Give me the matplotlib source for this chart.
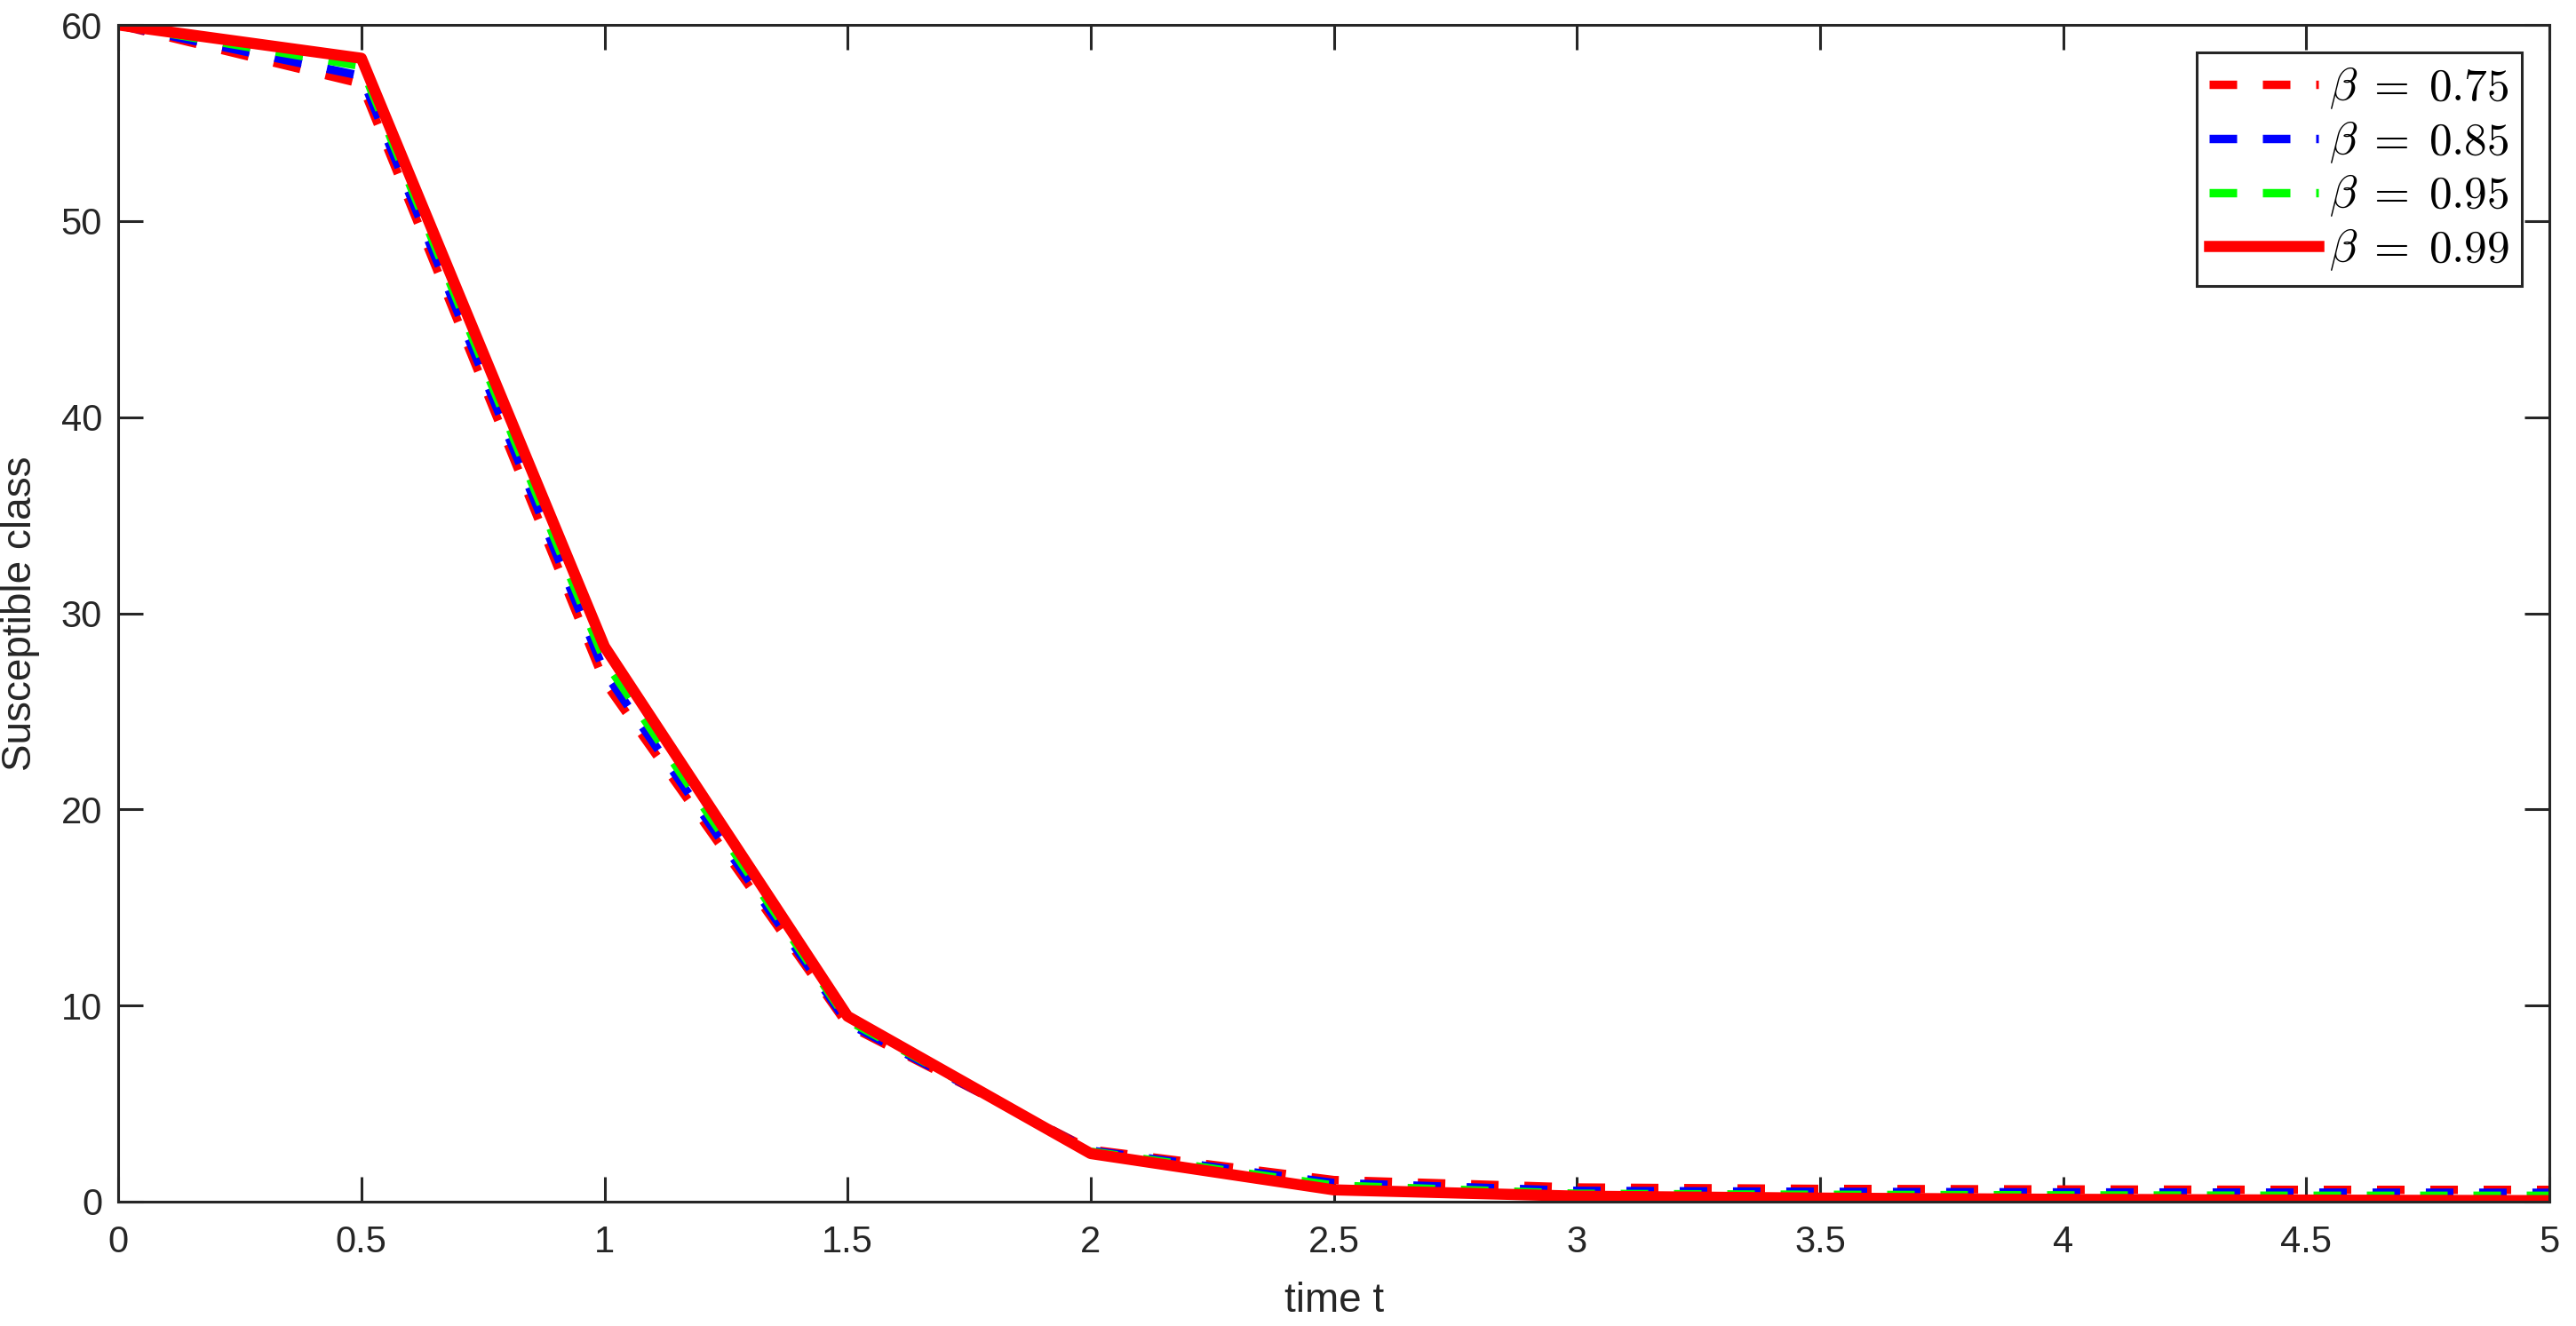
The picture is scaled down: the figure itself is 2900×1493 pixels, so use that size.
import numpy as np
import matplotlib
matplotlib.use('Agg')
import matplotlib.pyplot as plt

plt.rcParams['font.family'] = ['Liberation Sans', 'DejaVu Sans']
plt.rcParams['mathtext.fontset'] = 'cm'

# datos
t = [0, 0.5, 1, 1.5, 2, 2.5, 3, 3.5, 4, 4.5, 5]
S_075 = [60, 57.0, 26.5, 9.0, 2.65, 1.1, 0.72, 0.65, 0.62, 0.6, 0.6]
S_085 = [60, 57.4, 27.0, 9.1, 2.6, 0.95, 0.55, 0.5, 0.47, 0.46, 0.45]
S_095 = [60, 57.9, 27.6, 9.25, 2.55, 0.82, 0.4, 0.35, 0.32, 0.3, 0.3]
S_099 = [60, 58.3, 28.3, 9.45, 2.45, 0.6, 0.28, 0.18, 0.12, 0.08, 0.05]
etiquetas = [r'$\beta\;=\;0.75$', r'$\beta\;=\;0.85$', r'$\beta\;=\;0.95$', r'$\beta\;=\;0.99$']
xticks = [0, 0.5, 1, 1.5, 2, 2.5, 3, 3.5, 4, 4.5, 5]
yticks = [0, 10, 20, 30, 40, 50, 60]

gris = '#262626'
fig = plt.figure(figsize=(29, 14.93), dpi=100)
ax = fig.add_axes([0.0459, 0.0938, 0.9438, 0.8874])

# trazo discontinuo tipo matlab '-.'
lw_d = 6.8
guion = (31 / (lw_d * 100 / 72), 29 / (lw_d * 100 / 72))
ax.plot(t, S_075, color=(1, 0, 0), lw=lw_d, dashes=guion, label=etiquetas[0])
ax.plot(t, S_085, color=(0, 0, 1), lw=lw_d, dashes=guion, label=etiquetas[1])
ax.plot(t, S_095, color=(0, 1, 0), lw=lw_d, dashes=guion, label=etiquetas[2])
ax.plot(t, S_099, color=(1, 0, 0), lw=9, label=etiquetas[3])

ax.set_xlim(0, 5)
ax.set_ylim(0, 60)
ax.set_xticks(xticks)
ax.set_xticklabels([('%g' % v) for v in xticks])
ax.set_yticks(yticks)

for s in ax.spines.values():
    s.set_linewidth(2.2)
    s.set_color(gris)
ax.tick_params(direction='in', length=20, width=2.2, color=gris, labelcolor=gris,
               labelsize=30, top=True, right=True)
ax.tick_params(axis='x', pad=19)
ax.tick_params(axis='y', pad=13)

ax.set_xlabel('time t', fontsize=33, color=gris, labelpad=17)
ax.set_ylabel('Susceptible class', fontsize=33, color=gris, labelpad=17)

leg = ax.legend(loc='upper right', fontsize=37, handlelength=2.4, handletextpad=0.22,
                labelspacing=0.18, borderpad=0.28, borderaxespad=0.6,
                fancybox=False, framealpha=1)
leg.get_frame().set_edgecolor(gris)
leg.get_frame().set_linewidth(2.2)

plt.savefig('out.png', dpi=100)
